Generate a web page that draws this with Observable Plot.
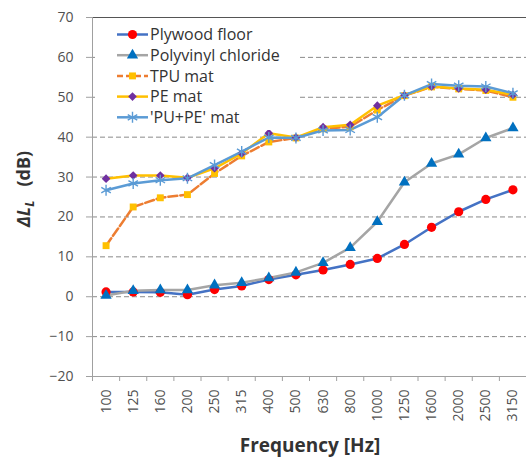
<!DOCTYPE html>
<html>
<head>
<meta charset="utf-8">
<script src="https://cdn.jsdelivr.net/npm/d3@7"></script>
<script src="https://cdn.jsdelivr.net/npm/@observablehq/plot@0.6"></script>
<style>
  html, body { margin: 0; padding: 0; background: #fff; }
  #chart { position: relative; width: 526px; height: 459px; }
</style>
</head>
<body>
<div id="chart"></div>
<script>
const freqs = ["100","125","160","200","250","315","400","500","630","800","1000","1250","1600","2000","2500","3150"];
const plywood = [1.2,1.2,1.1,0.5,1.8,2.7,4.3,5.5,6.7,8.1,9.6,13.1,17.4,21.3,24.4,26.8];
const pvc     = [0.3,1.5,1.7,1.7,2.9,3.5,4.7,6.1,8.5,12.3,18.8,28.7,33.4,35.7,39.8,42.3];
const tpu     = [12.8,22.5,24.8,25.6,30.9,35.3,38.8,39.8,42.1,42.6,46.8,50.4,52.6,52.1,51.7,50.0];
const pe      = [29.6,30.4,30.4,29.8,32.2,35.9,41.0,39.9,42.5,43.1,47.9,50.5,52.7,52.2,51.9,50.6];
const pupe    = [26.7,28.4,29.2,29.7,33.0,36.4,39.9,39.8,41.7,41.8,45.0,50.5,53.3,52.9,52.7,51.0];
const seriesNames = ["Plywood floor","Polyvinyl chloride","TPU mat","PE mat","'PU+PE' mat"];
const yTicks = [-20,-10,0,10,20,30,40,50,60,70];

const styles = [
  {line:"#4472C4", dash:null, sym:"circle", fill:"#FF0000", stroke:"none", r:4.6, sw:0},
  {line:"#A5A5A5", dash:null, sym:"triangle", fill:"#0070C0", stroke:"none", r:4.2, sw:0},
  {line:"#ED7D31", dash:"9,3", sym:"square", fill:"#FFC000", stroke:"none", r:3.9, sw:0},
  {line:"#FFC000", dash:null, sym:"diamond2", fill:"#7030A0", stroke:"none", r:3.9, sw:0},
  {line:"#5B9BD5", dash:null, sym:"asterisk", fill:"none", stroke:"#5B9BD5", r:5.2, sw:1.4}
];
const seriesValues = [plywood, pvc, tpu, pe, pupe];
const tables = seriesValues.map((vals, s) => vals.map((v, i) => ({series: seriesNames[s], i: i + 0.5, v})));

const marks = [
  Plot.gridY(yTicks.filter(d => d > -20 && d < 70), {stroke:"#8a8a8a", strokeOpacity:1, strokeDasharray:"5,3", strokeWidth:1}),
  Plot.ruleY([70], {stroke:"#555", strokeWidth:1}),
  Plot.ruleY([-20], {stroke:"#a0a0a0", strokeWidth:1}),
  Plot.ruleX([0], {stroke:"#a0a0a0", strokeWidth:1}),
  Plot.axisY({ticks: yTicks, tickSize: 6, tickPadding: 13, fontSize: 14, label: null, stroke:"#a0a0a0", fill:"#505050"}),
  Plot.axisX({ticks: d3.range(0, 17), tickFormat: () => "", tickSize: 5, label: null, stroke:"#a0a0a0"}),
  Plot.axisX({ticks: d3.range(16).map(i => i + 0.5), tickFormat: d => freqs[Math.floor(d)], tickSize: 0, tickPadding: 13, tickRotate: -90, fontSize: 14, label: null, fill:"#505050"})
];
tables.forEach((t, s) => {
  const st = styles[s];
  marks.push(Plot.line(t, {x:"i", y:"v", stroke: st.line, strokeWidth: 2.5, strokeDasharray: st.dash || undefined}));
});
tables.forEach((t, s) => {
  const st = styles[s];
  marks.push(Plot.dot(t, {x:"i", y:"v", symbol: () => st.sym, r: st.r, fill: st.fill, stroke: st.stroke, strokeWidth: st.sw}));
});

const chart = Plot.plot({
  width: 526,
  height: 459,
  marginTop: 17,
  marginBottom: 83,
  marginLeft: 92,
  marginRight: 0,
  style: {fontFamily: "'Open Sans', sans-serif", background: "#fff", overflow: "visible"},
  x: {type: "linear", domain: [0, 16], axis: null},
  y: {domain: [-20, 70], axis: null},
  symbol: {type: "identity"},
  marks
});
document.getElementById("chart").appendChild(chart);

// Axis titles and legend added as text into the SVG
const svg = d3.select(chart);
svg.append("text")
  .attr("x", 310).attr("y", 452)
  .attr("text-anchor", "middle")
  .attr("font-family", "'Open Sans', sans-serif")
  .attr("font-size", 19).attr("font-weight", "bold").attr("fill", "#333")
  .text("Frequency [Hz]");

const yl = svg.append("text")
  .attr("transform", "translate(30,189) rotate(-90)")
  .attr("text-anchor", "middle")
  .attr("font-family", "'Open Sans', sans-serif")
  .attr("font-size", 18).attr("font-weight", "bold").attr("fill", "#333");
yl.append("tspan").attr("font-style", "italic").text("ΔL");
yl.append("tspan").attr("font-style", "italic").attr("font-size", 12).attr("dy", 4).text("L");
yl.append("tspan").attr("dy", -4).text("\u00A0\u00A0\u00A0(dB)");

const lg = svg.append("g");
lg.append("rect").attr("x", 95).attr("y", 22).attr("width", 203).attr("height", 108).attr("fill", "#fff");
const symMap = {circle: d3.symbolCircle, triangle: d3.symbolTriangle, square: d3.symbolSquare, diamond2: d3.symbolDiamond2, asterisk: d3.symbolAsterisk};
seriesNames.forEach((name, s) => {
  const st = styles[s];
  const cy = 34.5 + s * 20.7;
  lg.append("line").attr("x1", 117).attr("x2", 148).attr("y1", cy).attr("y2", cy)
    .attr("stroke", st.line).attr("stroke-width", 2.5).attr("stroke-dasharray", st.dash ? "6,3" : null);
  lg.append("path")
    .attr("d", d3.symbol(symMap[st.sym], Math.PI * st.r * st.r)())
    .attr("transform", `translate(132.5,${cy})`)
    .attr("fill", st.fill).attr("stroke", st.stroke).attr("stroke-width", st.sw);
  lg.append("text").attr("x", 150).attr("y", cy).attr("dy", "0.35em")
    .attr("text-anchor", "start")
    .attr("font-family", "'Open Sans', sans-serif").attr("font-size", 16).attr("fill", "#333")
    .text(name);
});
</script>
</body>
</html>
